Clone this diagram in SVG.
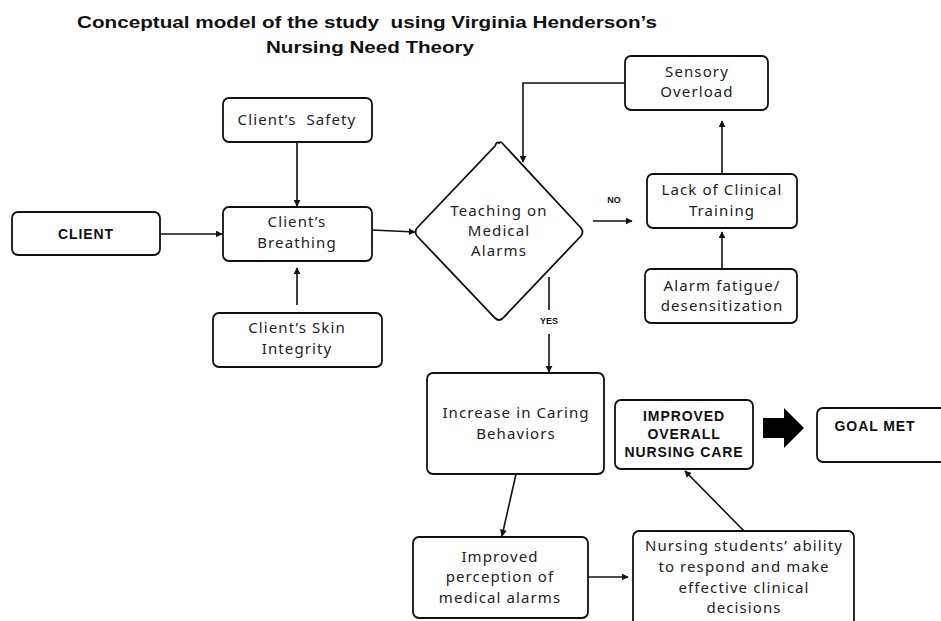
<svg xmlns="http://www.w3.org/2000/svg" width="941" height="621" viewBox="0 0 941 621">
<defs>
<marker id="ah" viewBox="0 0 10 10" refX="9" refY="5" markerWidth="7" markerHeight="7" markerUnits="userSpaceOnUse" orient="auto">
<path d="M0,0 L10,5 L0,10 z" fill="#111"/>
</marker>
<style>
.box{fill:#fff;stroke:#111;stroke-width:1.8}
.t{font-family:"Noto Sans","DejaVu Sans",sans-serif;font-size:15px;fill:#222;text-anchor:middle;letter-spacing:1.1px;white-space:pre}
.b{font-family:"Liberation Sans",Arial,sans-serif;font-size:14px;font-weight:bold;fill:#111;text-anchor:middle;letter-spacing:0.9px}
.s{font-family:"Liberation Sans",Arial,sans-serif;font-size:9px;font-weight:bold;fill:#111;text-anchor:middle}
.title{font-family:"Liberation Sans",Arial,sans-serif;font-size:17px;font-weight:bold;fill:#111;white-space:pre}
.c{fill:none;stroke:#111;stroke-width:1.6}
</style>
</defs>
<rect width="941" height="621" fill="#fff"/>
<text class="title" x="77" y="28" textLength="580" lengthAdjust="spacingAndGlyphs" xml:space="preserve">Conceptual model of the study  using Virginia Henderson’s</text>
<text class="title" x="266" y="53" textLength="208" lengthAdjust="spacingAndGlyphs">Nursing Need Theory</text>

<g id="connectors">
<line class="c" x1="297" y1="142" x2="297" y2="206" marker-end="url(#ah)"/>
<line class="c" x1="297" y1="305" x2="297" y2="268" marker-end="url(#ah)"/>
<line class="c" x1="160" y1="234" x2="222" y2="234" marker-end="url(#ah)"/>
<line class="c" x1="372" y1="230" x2="415" y2="232" marker-end="url(#ah)"/>
<polyline class="c" points="625,83 523,83 523,162" marker-end="url(#ah)"/>
<line class="c" x1="593" y1="221" x2="632" y2="221" marker-end="url(#ah)"/>
<line class="c" x1="722" y1="174" x2="722" y2="121" marker-end="url(#ah)"/>
<line class="c" x1="722" y1="269" x2="722" y2="232" marker-end="url(#ah)"/>
<line class="c" x1="549" y1="277" x2="549" y2="310"/>
<line class="c" x1="549" y1="334" x2="549" y2="372" marker-end="url(#ah)"/>
<line class="c" x1="516" y1="474" x2="502" y2="536" marker-end="url(#ah)"/>
<line class="c" x1="588" y1="577" x2="628" y2="577" marker-end="url(#ah)"/>
<line class="c" x1="744" y1="531" x2="685" y2="471" marker-end="url(#ah)"/>
<polygon points="763,418 784,418 784,408 804,428 784,448 784,438 763,438" fill="#000"/>
<text class="s" x="614" y="203">NO</text>
<text class="s" x="549" y="324">YES</text>
</g>

<g id="client-safety">
<rect class="box" x="223" y="98" width="149" height="44" rx="6"/>
<text class="t" x="297" y="125" xml:space="preserve">Client’s  Safety</text>
</g>
<g id="client-breathing">
<rect class="box" x="223" y="207" width="149" height="54" rx="6"/>
<text class="t" x="297" y="227">Client’s</text>
<text class="t" x="297" y="248">Breathing</text>
</g>
<g id="client">
<rect class="box" x="12" y="212" width="148" height="43" rx="6"/>
<text class="b" x="86" y="239">CLIENT</text>
</g>
<g id="client-skin">
<rect class="box" x="213" y="313" width="169" height="54" rx="6"/>
<text class="t" x="297" y="333">Client’s Skin</text>
<text class="t" x="297" y="354">Integrity</text>
</g>
<g id="teaching">
<path class="box" d="M499,143 Q501,141 503,144 L581,228 Q584,232 581,236 L503,318 Q499,322 495,318 L417,236 Q414,232 417,228 L495,146 Q497,141 499,143 z"/>
<text class="t" x="499" y="216">Teaching on</text>
<text class="t" x="499" y="236">Medical</text>
<text class="t" x="499" y="256">Alarms</text>
</g>
<g id="sensory-overload">
<rect class="box" x="625" y="56" width="143" height="54" rx="6"/>
<text class="t" x="697" y="77">Sensory</text>
<text class="t" x="697" y="97">Overload</text>
</g>
<g id="lack-training">
<rect class="box" x="647" y="174" width="150" height="54" rx="6"/>
<text class="t" x="722" y="195">Lack of Clinical</text>
<text class="t" x="722" y="216">Training</text>
</g>
<g id="alarm-fatigue">
<rect class="box" x="645" y="269" width="152" height="54" rx="6"/>
<text class="t" x="722" y="291">Alarm fatigue/</text>
<text class="t" x="722" y="311">desensitization</text>
</g>
<g id="caring">
<rect class="box" x="427" y="373" width="177" height="101" rx="6"/>
<text class="t" x="516" y="418">Increase in Caring</text>
<text class="t" x="516" y="439">Behaviors</text>
</g>
<g id="improved-care">
<rect class="box" x="615" y="400" width="138" height="69" rx="6"/>
<text class="b" x="684" y="421">IMPROVED</text>
<text class="b" x="684" y="439">OVERALL</text>
<text class="b" x="684" y="457">NURSING CARE</text>
</g>
<g id="goal-met">
<rect class="box" x="817" y="408" width="140" height="54" rx="6"/>
<text class="b" x="875" y="431">GOAL MET</text>
</g>
<g id="perception">
<rect class="box" x="413" y="537" width="175" height="81" rx="6"/>
<text class="t" x="500" y="562">Improved</text>
<text class="t" x="500" y="582">perception of</text>
<text class="t" x="500" y="603">medical alarms</text>
</g>
<g id="ability">
<rect class="box" x="633" y="531" width="221" height="100" rx="6"/>
<text class="t" x="744" y="551">Nursing students’ ability</text>
<text class="t" x="744" y="572">to respond and make</text>
<text class="t" x="744" y="593">effective clinical</text>
<text class="t" x="744" y="613">decisions</text>
</g>
</svg>
